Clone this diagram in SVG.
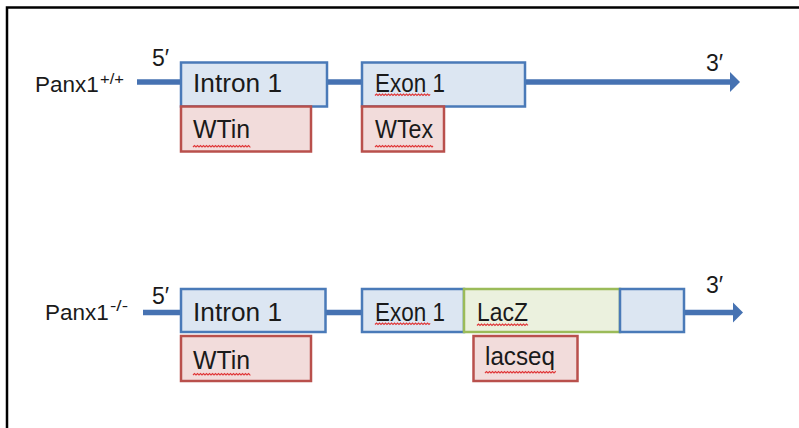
<svg xmlns="http://www.w3.org/2000/svg" xmlns:xlink="http://www.w3.org/1999/xlink" width="799" height="428" viewBox="0 0 799 428">
  <style>
    .lbl { font-family: "Liberation Sans", Arial, sans-serif; font-size: 25.5px; fill: #1a1a1a; }
    .name { font-family: "Liberation Sans", Arial, sans-serif; font-size: 22.5px; fill: #1a1a1a; }
    .sup { font-family: "Liberation Sans", Arial, sans-serif; font-size: 15px; fill: #1a1a1a; }
    .end { font-family: "Liberation Sans", Arial, sans-serif; font-size: 23px; fill: #1a1a1a; }
    .seg { fill: #dce6f2; stroke: #4a7ab8; stroke-width: 2.5; }
    .probe { fill: #f2dcdb; stroke: #b9504c; stroke-width: 2.5; }
    .lacz { fill: #ebf1de; stroke: #9bbb59; stroke-width: 2.5; }
    .dna { stroke: #4672b2; stroke-width: 5.5; fill: none; }
    .spell { fill: none; stroke: #e0393a; stroke-width: 1.2; }
  </style>
  <defs>
    <marker id="head" markerUnits="userSpaceOnUse" markerWidth="11" markerHeight="22" viewBox="0 -11 11 22" refX="0" refY="0" orient="auto">
      <path d="M0,-10 L10,0 L0,10 Z" fill="#4672b2"/>
    </marker>
    <!-- wavy spell-check underline; trimmed to length with a dash -->
    <path id="zig" d="M0,0 l1.5,-1.5 1.5,1.5 1.5,-1.5 1.5,1.5 1.5,-1.5 1.5,1.5 1.5,-1.5 1.5,1.5 1.5,-1.5 1.5,1.5 1.5,-1.5 1.5,1.5 1.5,-1.5 1.5,1.5 1.5,-1.5 1.5,1.5 1.5,-1.5 1.5,1.5 1.5,-1.5 1.5,1.5 1.5,-1.5 1.5,1.5 1.5,-1.5 1.5,1.5 1.5,-1.5 1.5,1.5 1.5,-1.5 1.5,1.5 1.5,-1.5 1.5,1.5 1.5,-1.5 1.5,1.5 1.5,-1.5 1.5,1.5 1.5,-1.5 1.5,1.5 1.5,-1.5 1.5,1.5 1.5,-1.5 1.5,1.5 1.5,-1.5 1.5,1.5 1.5,-1.5 1.5,1.5 1.5,-1.5 1.5,1.5 1.5,-1.5 1.5,1.5 1.5,-1.5 1.5,1.5 1.5,-1.5 1.5,1.5 1.5,-1.5 1.5,1.5"/>
  </defs>

  <rect x="0" y="0" width="799" height="428" fill="#ffffff"/>
  <!-- frame -->
  <path d="M7,428 V7.5 H799" fill="none" stroke="#000" stroke-width="2.5"/>

  <!-- DNA strands -->
  <g id="connectors">
    <path class="dna" d="M137,82 H181"/>
    <path class="dna" d="M327,82 H362"/>
    <path class="dna" d="M525,82 H730" marker-end="url(#head)"/>
    <path class="dna" d="M143,312.5 H181"/>
    <path class="dna" d="M325,312.5 H362"/>
    <path class="dna" d="M684,312.5 H733" marker-end="url(#head)"/>
  </g>

  <!-- wild-type allele -->
  <g id="wt-label">
    <text class="name" x="35" y="92">Panx1</text>
    <text class="sup" x="100" y="84" textLength="24" lengthAdjust="spacingAndGlyphs">+/+</text>
    <text class="end" x="152" y="65.5">5′</text>
    <text class="end" x="706" y="71">3′</text>
  </g>
  <g id="wt-intron1">
    <rect class="seg" x="181" y="62.5" width="146" height="44"/>
    <text class="lbl" x="193" y="91.5" textLength="89" lengthAdjust="spacingAndGlyphs">Intron 1</text>
  </g>
  <g id="wt-wtin">
    <rect class="probe" x="181" y="106.5" width="130" height="45"/>
    <text class="lbl" x="193" y="138" textLength="57" lengthAdjust="spacingAndGlyphs">WTin</text>
  </g>
  <g id="wt-exon1">
    <rect class="seg" x="362" y="62.5" width="163" height="44"/>
    <text class="lbl" x="375" y="91.5" textLength="70" lengthAdjust="spacingAndGlyphs">Exon 1</text>
  </g>
  <g id="wt-wtex">
    <rect class="probe" x="362" y="106.5" width="82" height="45"/>
    <text class="lbl" x="375" y="138" textLength="58" lengthAdjust="spacingAndGlyphs">WTex</text>
  </g>

  <!-- knockout allele -->
  <g id="ko-label">
    <text class="name" x="45" y="320">Panx1</text>
    <text class="sup" x="110" y="311" textLength="18" lengthAdjust="spacingAndGlyphs">-/-</text>
    <text class="end" x="152" y="304">5′</text>
    <text class="end" x="706" y="293">3′</text>
  </g>
  <g id="ko-intron1">
    <rect class="seg" x="181" y="289" width="144.5" height="43"/>
    <text class="lbl" x="193" y="320.5" textLength="89" lengthAdjust="spacingAndGlyphs">Intron 1</text>
  </g>
  <g id="ko-wtin">
    <rect class="probe" x="181" y="336" width="130" height="45"/>
    <text class="lbl" x="193" y="369" textLength="57" lengthAdjust="spacingAndGlyphs">WTin</text>
  </g>
  <g id="ko-exon1">
    <rect class="seg" x="362" y="289" width="102" height="43"/>
    <text class="lbl" x="375" y="320.5" textLength="70" lengthAdjust="spacingAndGlyphs">Exon 1</text>
  </g>
  <g id="ko-lacz">
    <rect class="lacz" x="464" y="289" width="156" height="43"/>
    <text class="lbl" x="477" y="320.5" textLength="51" lengthAdjust="spacingAndGlyphs">LacZ</text>
  </g>
  <g id="ko-tail">
    <rect class="seg" x="620" y="289" width="64" height="43"/>
  </g>
  <g id="ko-lacseq">
    <rect class="probe" x="473.5" y="336" width="104" height="45"/>
    <text class="lbl" x="485" y="365" textLength="70" lengthAdjust="spacingAndGlyphs">lacseq</text>
  </g>

  <!-- spell-check underlines -->
  <g id="spelling">
    <use xlink:href="#zig" class="spell" x="193" y="147" style="stroke-dasharray:81 1000"/>
    <use xlink:href="#zig" class="spell" x="375" y="95.5" style="stroke-dasharray:78 1000"/>
    <use xlink:href="#zig" class="spell" x="375" y="147" style="stroke-dasharray:82 1000"/>
    <use xlink:href="#zig" class="spell" x="193" y="375" style="stroke-dasharray:81 1000"/>
    <use xlink:href="#zig" class="spell" x="375" y="324.5" style="stroke-dasharray:78 1000"/>
    <use xlink:href="#zig" class="spell" x="477" y="325.5" style="stroke-dasharray:72 1000"/>
    <use xlink:href="#zig" class="spell" x="485" y="373" style="stroke-dasharray:100 1000"/>
  </g>
</svg>
